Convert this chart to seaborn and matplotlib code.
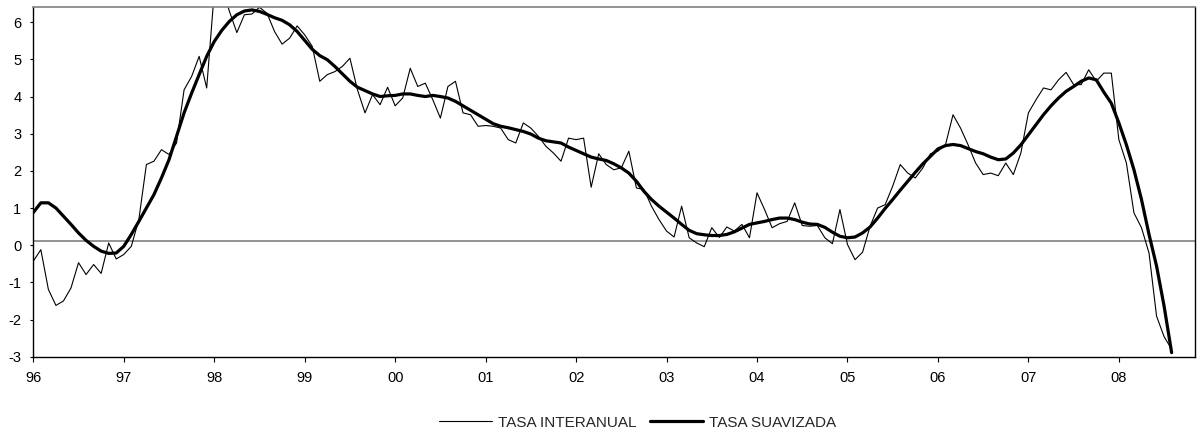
import numpy as np
import pandas as pd
import matplotlib
matplotlib.use('Agg')
import matplotlib.pyplot as plt
import seaborn as sns

# Monthly series, Jan 1996 .. Aug 2008
tasa_interanual = [
    -0.43, -0.12, -1.19, -1.62, -1.50, -1.15, -0.47, -0.79, -0.52, -0.76, 0.06, -0.37,
    -0.25, -0.03, 0.69, 2.17, 2.26, 2.57, 2.44, 2.75, 4.18, 4.54, 5.08, 4.23,
    6.80, 7.00, 6.30, 5.72, 6.20, 6.22, 6.40, 6.24, 5.75, 5.41, 5.57, 5.90,
    5.66, 5.35, 4.41, 4.59, 4.67, 4.81, 5.03, 4.18, 3.56, 4.05, 3.78, 4.25,
    3.75, 3.96, 4.76, 4.27, 4.36, 3.91, 3.42, 4.27, 4.41, 3.56, 3.51, 3.20,
    3.22, 3.20, 3.15, 2.84, 2.75, 3.29, 3.15, 2.93, 2.66, 2.48, 2.26, 2.88,
    2.84, 2.88, 1.56, 2.46, 2.17, 2.03, 2.08, 2.53, 1.54, 1.50, 1.05, 0.69,
    0.38, 0.22, 1.05, 0.20, 0.06, -0.04, 0.47, 0.21, 0.49, 0.38, 0.56, 0.20,
    1.41, 0.96, 0.47, 0.58, 0.64, 1.14, 0.53, 0.51, 0.53, 0.20, 0.04, 0.96,
    0.02, -0.39, -0.19, 0.51, 1.00, 1.09, 1.59, 2.17, 1.94, 1.81, 2.08, 2.46,
    2.53, 2.70, 3.51, 3.15, 2.70, 2.21, 1.90, 1.94, 1.87, 2.21, 1.90, 2.48,
    3.56, 3.91, 4.23, 4.18, 4.45, 4.65, 4.32, 4.32, 4.72, 4.41, 4.63, 4.63,
    2.84, 2.21, 0.87, 0.47, -0.21, -1.91, -2.46, -2.80,
]
tasa_suavizada = [
    0.88, 1.14, 1.14, 1.00, 0.78, 0.56, 0.33, 0.13, -0.03, -0.16, -0.22, -0.21,
    -0.03, 0.29, 0.64, 1.00, 1.36, 1.81, 2.30, 2.93, 3.56, 4.09, 4.59, 5.08,
    5.48, 5.78, 6.02, 6.20, 6.30, 6.33, 6.29, 6.21, 6.12, 6.05, 5.93, 5.75,
    5.51, 5.27, 5.10, 4.99, 4.81, 4.61, 4.41, 4.25, 4.16, 4.07, 4.00, 4.02,
    4.03, 4.07, 4.07, 4.03, 4.00, 4.03, 4.00, 3.96, 3.87, 3.75, 3.63, 3.51,
    3.39, 3.27, 3.20, 3.16, 3.11, 3.06, 2.99, 2.88, 2.81, 2.78, 2.75, 2.64,
    2.55, 2.46, 2.37, 2.32, 2.28, 2.19, 2.08, 1.94, 1.72, 1.45, 1.23, 1.05,
    0.89, 0.73, 0.56, 0.40, 0.31, 0.28, 0.26, 0.26, 0.29, 0.36, 0.46, 0.56,
    0.60, 0.64, 0.69, 0.73, 0.73, 0.69, 0.62, 0.57, 0.56, 0.48, 0.35, 0.24,
    0.20, 0.22, 0.33, 0.49, 0.73, 0.99, 1.23, 1.48, 1.72, 1.96, 2.19, 2.39,
    2.59, 2.68, 2.71, 2.68, 2.60, 2.52, 2.46, 2.37, 2.30, 2.32, 2.48, 2.70,
    2.97, 3.24, 3.51, 3.75, 3.96, 4.14, 4.27, 4.41, 4.50, 4.45, 4.12, 3.82,
    3.29, 2.70, 2.03, 1.23, 0.29, -0.56, -1.64, -2.89,
]
year_labels = ['96', '97', '98', '99', '00', '01', '02', '03', '04', '05', '06', '07', '08']

df = pd.DataFrame({
    'mes': np.arange(len(tasa_suavizada)),
    'interanual': tasa_interanual,
    'suavizada': tasa_suavizada,
})

sns.set_style('white')
plt.rcParams['font.family'] = ['Liberation Sans', 'DejaVu Sans']
plt.rcParams['axes.unicode_minus'] = False

fig = plt.figure(figsize=(11.98, 4.33), dpi=100)
ax = fig.add_axes([0.0278, 0.1762, 0.9697, 0.8069])

ax.axhline(0.1, color='#808080', lw=1.2, zorder=1)
sns.lineplot(data=df, x='mes', y='interanual', ax=ax, color='black', lw=0.8,
             label='TASA INTERANUAL', zorder=2)
sns.lineplot(data=df, x='mes', y='suavizada', ax=ax, color='black', lw=2.3,
             label='TASA SUAVIZADA', zorder=3)

ax.set_xlim(0, 154.1)
ax.set_ylim(-3, 6.4)
ax.set_xticks(np.arange(len(year_labels)) * 12)
ax.set_xticklabels(year_labels)
ax.set_yticks(range(-3, 7))
ax.set_xlabel('')
ax.set_ylabel('')

ax.tick_params(axis='x', direction='out', length=3.6, width=0.8, pad=7,
               labelsize=10.5, colors='black', bottom=True)
ax.tick_params(axis='y', direction='out', length=2.5, width=0.8, pad=6,
               labelsize=10.5, colors='black', left=True)

for side in ['left', 'bottom', 'right']:
    ax.spines[side].set_color('black')
    ax.spines[side].set_linewidth(1.0)
ax.spines['top'].set_color('#808080')
ax.spines['top'].set_linewidth(1.2)

ax.legend_.remove()
handles, labels = ax.get_legend_handles_labels()
fig.legend(handles, labels, loc='center', bbox_to_anchor=(0.532, 0.024), ncol=2,
           frameon=False, fontsize=11, handlelength=3.5, handletextpad=0.35,
           columnspacing=0.9)

plt.savefig('out.png', dpi=100)
